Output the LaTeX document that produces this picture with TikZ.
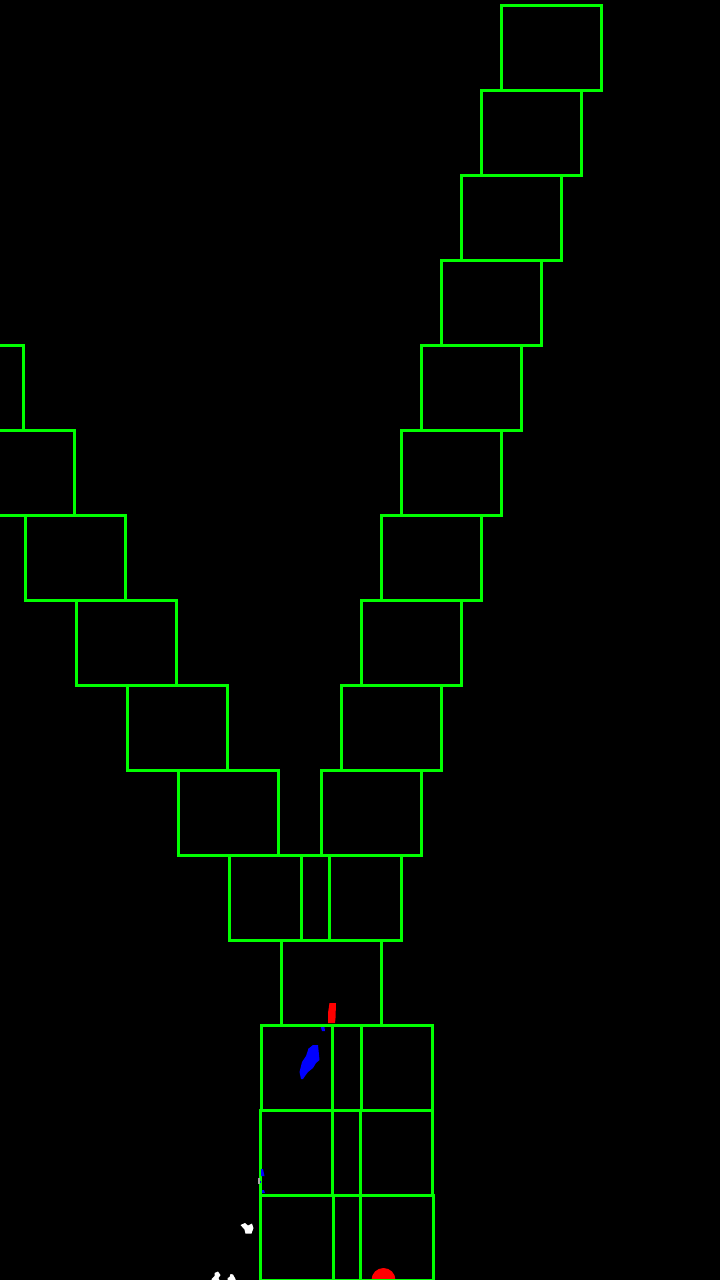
\documentclass[tikz,border=0pt]{standalone}
\definecolor{puregreen}{RGB}{0,255,0}
\definecolor{pureblue}{RGB}{0,0,255}
\definecolor{purered}{RGB}{255,0,0}
\begin{document}
\begin{tikzpicture}[x=1pt,y=-1pt,
  boxrect/.style={draw=puregreen,line width=3pt,line cap=rect,line join=miter},
  blueblob/.style={fill=pureblue,draw=none},
  redblob/.style={fill=purered,draw=none},
  whiteblob/.style={fill=white,draw=none}]
\useasboundingbox (0,0) rectangle (720,1280);
\fill[black] (0,0) rectangle (720,1280);
\clip (0,0) rectangle (720,1280);
\fill[redblob] (329.5,1003) -- (336,1003) -- (335.5,1018) -- (335,1023) -- (328,1023) -- (328,1013) -- cycle;
\fill[blueblob] (313,1045) -- (318,1045) -- (319.5,1060) -- (316,1063) -- (313,1068) -- (308,1072) -- (305,1076) -- (303,1079) -- (301,1079) -- (299.5,1072) -- (302,1062) -- (306,1056) -- (308,1050) -- (308,1049) -- cycle;
\fill[blueblob] (320,1024) -- (324,1024) -- (325,1031) -- (322,1031) -- cycle;
\fill[redblob] (383.5,1280) circle[radius=12];
\foreach \l/\t in {501/5,481/90,461/175,441/260,421/345,401/430,381/515,361/600,341/685,321/770,301/855,281/940,261/1025,260/1110,260/1195,
  229/855,178/770,127/685,76/600,25/515,-26/430,-77/345,
  332/1025,332/1110,333/1195}
  \draw[boxrect] (\l,\t) rectangle ++(100,85);
\fill[blueblob] (261,1169) -- (263,1169) -- (264.5,1176) -- (261,1176) -- cycle;
\fill[blueblob] (262,1190) -- (264,1190) -- (265,1193) -- (262,1193) -- cycle;
\fill[gray!70] (258,1178) rectangle (259.5,1184);
\fill[blueblob] (260,1181) rectangle (261,1183);
\fill[whiteblob] (240.5,1225) -- (245,1223) -- (248,1225.5) -- (252,1223.5) -- (253.5,1228) -- (251.5,1233.5) -- (245.5,1233.5) -- (244.5,1229.5) -- cycle;
\fill[whiteblob] (211.5,1279) -- (214.5,1276) -- (214.5,1273) -- (218,1271.5) -- (220.5,1275) -- (218.5,1278) -- (219.5,1280) -- (211.5,1280) -- cycle;
\fill[whiteblob] (227.5,1278) -- (229.5,1277) -- (230.5,1274) -- (233,1274.5) -- (235.5,1279) -- (235.5,1280) -- (227.5,1280) -- cycle;
\end{tikzpicture}
\end{document}
